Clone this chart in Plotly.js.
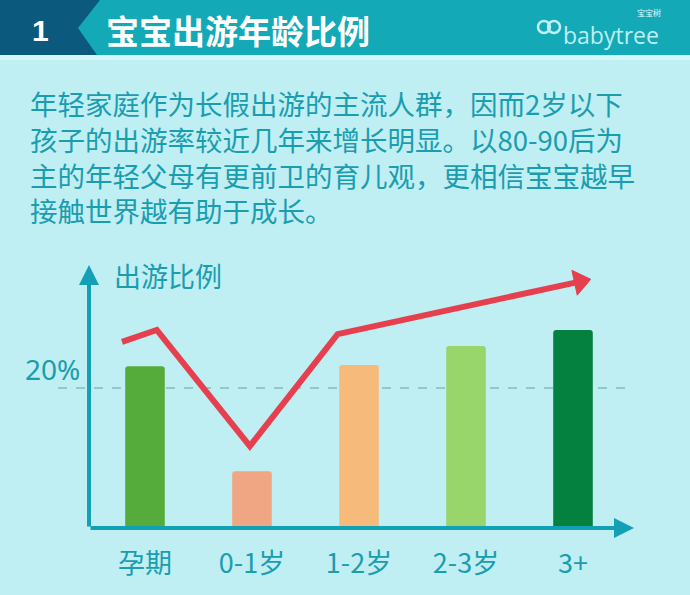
<!DOCTYPE html>
<html><head><meta charset="utf-8">
<script src="https://cdn.plot.ly/plotly-3.0.1.min.js"></script>
<style>html,body{margin:0;padding:0;background:#BFEEF3;}</style>
</head><body>
<div id="chart" style="width:690px;height:595px;"></div>
<script>
// ---- data ----
const categories = ["孕期", "0-1岁", "1-2岁", "2-3岁", "3+"];
const shares = [23.1, 8.1, 23.3, 26.0, 28.3];          // 出游比例 (%)
const barColors = ["#55AC3A", "#F0A683", "#F6BA7B", "#98D56A", "#04803F"];
const trendX = [-0.215, 0.11, 0.98, 1.80, 4.065];    // trend arrow, in category units
const trendY = [26.6, 28.3, 11.7, 27.7, 35.2];
const refLevel = 20;
const titleText = "宝宝出游年龄比例";
const paragraph = [
  "年轻家庭作为长假出游的主流人群，因而2岁以下",
  "孩子的出游率较近几年来增长明显。以80-90后为",
  "主的年轻父母有更前卫的育儿观，更相信宝宝越早",
  "接触世界越有助于成长。"
];

// ---- layout helpers (pixel -> paper) ----
const W = 690, H = 595, L = 89, R = 58, T = 265, B = 67;
const PW = W - L - R, PH = H - T - B;
const px = x => (x - L) / PW;
const py = y => (H - B - y) / PH;
const teal = "#1A9DAF";
const font = "Noto Sans CJK SC, Noto Sans, sans-serif";

const idx = categories.map((_, i) => i);

const traces = [
  {
    type: "bar", x: idx, y: shares, width: 0.37,
    marker: {color: barColors, cornerradius: 3},
    hoverinfo: "skip"
  },
  {
    type: "scatter", mode: "lines+markers", x: trendX, y: trendY,
    line: {color: "#E6404F", width: 6},
    marker: {symbol: "triangle-up", angleref: "previous",
             size: trendX.map((_, i) => i === trendX.length - 1 ? 22 : 0),
             color: "#E6404F", opacity: 1, line: {width: 1, color: "#E6404F"}},
    hoverinfo: "skip"
  }
];

const shapes = [
  // header
  {type: "rect", xref: "paper", yref: "paper", x0: px(0), x1: px(690), y0: py(0), y1: py(55),
   fillcolor: "#13A9B7", line: {width: 0}, layer: "below"},
  {type: "path", xref: "paper", yref: "paper",
   path: `M${px(0)},${py(0)} L${px(100)},${py(0)} L${px(78)},${py(28)} L${px(97)},${py(55)} L${px(0)},${py(55)} Z`,
   fillcolor: "#0B5A7E", line: {width: 0}, layer: "below"},
  {type: "rect", xref: "paper", yref: "paper", x0: px(0), x1: px(690), y0: py(55), y1: py(60),
   fillcolor: "#D3F7FA", line: {width: 0}, layer: "below"},
  // logo rings
  {type: "circle", xref: "paper", yref: "paper", x0: px(538), x1: px(550), y0: py(21), y1: py(33),
   line: {color: "#BDEFF3", width: 2.5}},
  {type: "circle", xref: "paper", yref: "paper", x0: px(548), x1: px(560), y0: py(21), y1: py(33),
   line: {color: "#BDEFF3", width: 2.5}},
  // 20% dashed reference
  {type: "line", xref: "paper", yref: "y", x0: px(58), x1: px(630), y0: refLevel, y1: refLevel,
   line: {color: "#8FC9CC", width: 2, dash: "dash"}, layer: "below"}
];

const annotations = [
  {xref: "paper", yref: "paper", x: px(40), y: py(30), xanchor: "center", yanchor: "middle", text: "<b>1</b>", showarrow: false,
   font: {family: "Liberation Sans, Arial", size: 30, color: "#FFFFFF"}},
  {xref: "paper", yref: "paper", x: px(104), y: py(30), xanchor: "left", yanchor: "middle", text: "<b>" + titleText + "</b>",
   showarrow: false, font: {family: font, size: 33, color: "#FFFFFF"}},
  {xref: "paper", yref: "paper", x: px(561), y: py(35), xanchor: "left", yanchor: "middle", text: "babytree",
   showarrow: false, font: {family: "Open Sans, sans-serif", size: 23, color: "#BDEFF3"}},
  {xref: "paper", yref: "paper", x: px(663), y: py(12), xanchor: "right", yanchor: "middle", text: "宝宝树",
   showarrow: false, font: {family: font, size: 8, color: "#E8FBFC"}},
  // y axis arrow
  {xref: "paper", yref: "paper", x: 0, y: py(265), ax: 0, ay: 263, axref: "pixel", ayref: "pixel",
   showarrow: true, arrowhead: 2, arrowsize: 1, arrowwidth: 4, arrowcolor: "#12A0B6", text: ""},
  // x axis arrow
  {xref: "paper", yref: "paper", x: px(634), y: 0, ax: -545, ay: 0, axref: "pixel", ayref: "pixel",
   showarrow: true, arrowhead: 2, arrowsize: 1, arrowwidth: 4, arrowcolor: "#12A0B6", text: ""},
  {xref: "paper", yref: "paper", x: px(112), y: py(275), xanchor: "left", yanchor: "middle", text: "出游比例", showarrow: false,
   font: {family: font, size: 27, color: teal}},
  {xref: "paper", yref: "paper", x: px(52), y: py(369), xanchor: "center", yanchor: "middle", text: "20%", showarrow: false,
   font: {family: "Noto Sans, sans-serif", size: 28, color: teal}},
  {xref: "paper", yref: "paper", x: px(28), y: py(81), xanchor: "left", yanchor: "top", align: "left",
   text: paragraph.join("<br>"), showarrow: false, font: {family: font, size: 27.5, color: teal}}
];

const layout = {
  width: W, height: H,
  margin: {l: L, r: R, t: T, b: B},
  paper_bgcolor: "#BFEEF3", plot_bgcolor: "rgba(0,0,0,0)",
  showlegend: false,
  xaxis: {range: [(89 - 145) / 107, (632 - 145) / 107], tickvals: idx, ticktext: categories,
          showgrid: false, zeroline: false, showline: false, ticks: "outside", ticklen: 12,
          tickcolor: "rgba(0,0,0,0)", tickfont: {family: font, size: 27, color: teal}, fixedrange: true},
  yaxis: {range: [0, PH / 7], showgrid: false, zeroline: false, showline: false, showticklabels: false,
          fixedrange: true},
  shapes: shapes, annotations: annotations
};

Plotly.newPlot("chart", traces, layout, {displayModeBar: false, staticPlot: true});
</script>
</body></html>
